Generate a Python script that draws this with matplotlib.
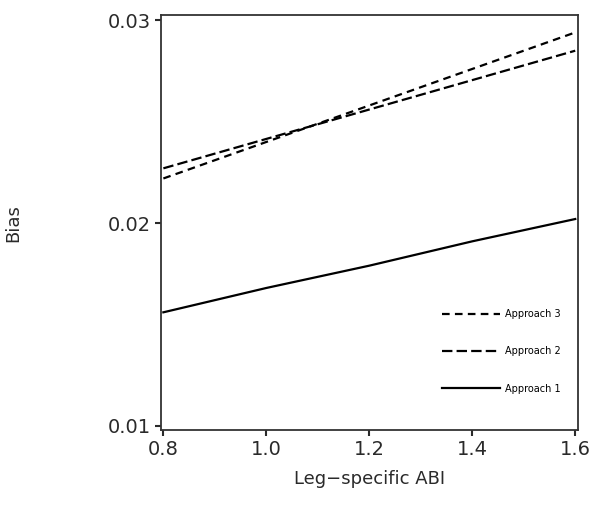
import numpy as np
import matplotlib
matplotlib.use("Agg")
import matplotlib.pyplot as plt

# values
abi = [0.8, 1.0, 1.2, 1.4, 1.6]
bias1 = [0.0156, 0.0168, 0.0179, 0.0191, 0.0202]   # Approach 1
bias2 = [0.0227, 0.02415, 0.0256, 0.02705, 0.0285]  # Approach 2
bias3 = [0.0222, 0.0240, 0.0258, 0.0276, 0.0294]    # Approach 3
xticks = [0.8, 1.0, 1.2, 1.4, 1.6]
yticks = [0.01, 0.02, 0.03]

plt.rcParams['font.family'] = ['DejaVu Sans']
plt.rcParams['lines.scale_dashes'] = False

fig = plt.figure(figsize=(6.0, 5.07), dpi=100)
ax = fig.add_axes([0.268, 0.152, 0.695, 0.818])

l1, = ax.plot(abi, bias1, color='black', lw=1.6, label='Approach 1')
l2, = ax.plot(abi, bias2, color='black', lw=1.6, dashes=(7.5, 3.0), label='Approach 2')
l3, = ax.plot(abi, bias3, color='black', lw=1.6, dashes=(5.5, 3.8), label='Approach 3')

ax.set_xlim(0.795, 1.605)
ax.set_ylim(0.0098, 0.03025)
ax.set_xticks(xticks)
ax.set_xticklabels(['%.1f' % v for v in xticks])
ax.set_yticks(yticks)
ax.set_yticklabels(['%.2f' % v for v in yticks])
ax.tick_params(direction='out', length=4, width=1.5, labelsize=14, colors='#2a2a2a', pad=3)

for s in ax.spines.values():
    s.set_linewidth(1.3)
    s.set_color('#333333')

ax.set_xlabel('Leg\u2212specific ABI', fontsize=13, color='#2a2a2a', labelpad=8)
ax.set_ylabel('Bias', fontsize=13, color='#2a2a2a', labelpad=62)

ax.legend(handles=[l3, l2, l1], loc='upper left', bbox_to_anchor=(0.662, 0.303),
          frameon=False, fontsize=7, borderpad=0, handlelength=6.0,
          handletextpad=0.5, labelspacing=2.8)

fig.savefig('out.png', dpi=100)
